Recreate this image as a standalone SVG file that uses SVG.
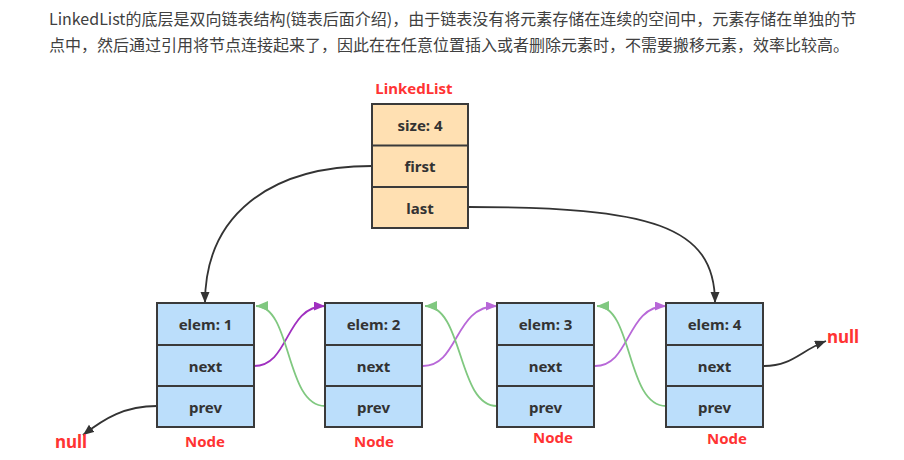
<svg xmlns="http://www.w3.org/2000/svg" width="904" height="460" viewBox="0 0 904 460">
<style>
.hdr{font-family:"Noto Sans CJK SC","Noto Sans",sans-serif;font-size:16px;fill:#404040}
.box{stroke:#3a3a3a;stroke-width:2}
.ll{fill:#ffe0b2}
.nd{fill:#bbdefb}
.div{stroke:#3a3a3a;stroke-width:2}
.t{font-family:"Noto Sans","Open Sans",sans-serif;font-weight:bold;font-size:15px;fill:#333;text-anchor:middle;dominant-baseline:central}
.red{font-family:"Noto Sans","Open Sans",sans-serif;font-weight:bold;font-size:15px;fill:#f33;text-anchor:middle;dominant-baseline:central}
.nul{font-size:17px}
.blk{fill:none;stroke:#333;stroke-width:1.8}
.pur{fill:none;stroke:#a030c0;stroke-width:1.8}
.pur2{fill:none;stroke:#b868d8;stroke-width:1.8}
.grn{fill:none;stroke:#80c880;stroke-width:1.8}
</style>
<defs>
<marker id="ab" markerUnits="userSpaceOnUse" markerWidth="12" markerHeight="10" refX="11" refY="4.5" orient="auto"><path d="M0,0 L11,4.5 L0,9 z" fill="#333"/></marker>
<marker id="ap" markerUnits="userSpaceOnUse" markerWidth="12" markerHeight="10" refX="11" refY="4.5" orient="auto"><path d="M0,0 L11,4.5 L0,9 z" fill="#a030c0"/></marker>
<marker id="ap2" markerUnits="userSpaceOnUse" markerWidth="12" markerHeight="10" refX="11" refY="4.5" orient="auto"><path d="M0,0 L11,4.5 L0,9 z" fill="#b868d8"/></marker>
<marker id="ag" markerUnits="userSpaceOnUse" markerWidth="13" markerHeight="11" refX="12" refY="5" orient="auto"><path d="M0,0 L12,5 L0,10 z" fill="#80c880"/></marker>
</defs>
<rect width="904" height="460" fill="#fff"/>
<g id="header">
<text class="hdr" x="49" y="25">LinkedList的底层是双向链表结构(链表后面介绍)，由于链表没有将元素存储在连续的空间中，元素存储在单独的节</text>
<text class="hdr" x="49" y="51">点中，然后通过引用将节点连接起来了，因此在在任意位置插入或者删除元素时，不需要搬移元素，效率比较高。</text>
</g>
<g id="connectors">
<path class="blk" d="M372,166 C270,166 205,215 205,303" marker-end="url(#ab)"/>
<path class="blk" d="M468,207 C650,207 715,225 715,303" marker-end="url(#ab)"/>
<path class="pur" d="M254,366 C290,366 285,306 325,306" marker-end="url(#ap)"/>
<path class="grn" d="M325,406 C285,406 292,306 256,306" marker-end="url(#ag)"/>
<path class="pur2" d="M423,366 C459,366 454,306 497,306" marker-end="url(#ap2)"/>
<path class="grn" d="M497,406 C457,406 464,306 425,306" marker-end="url(#ag)"/>
<path class="pur2" d="M595,366 C631,366 626,306 666,306" marker-end="url(#ap2)"/>
<path class="grn" d="M666,406 C626,406 633,306 597,306" marker-end="url(#ag)"/>
<path class="blk" d="M764,366 C792,366 800,351 826,341" marker-end="url(#ab)"/>
<path class="blk" d="M157,406 C125,406 105,418 83,435" marker-end="url(#ab)"/>
</g>
<g id="linkedlist">
<text class="red" x="414" y="88">LinkedList</text>
<rect class="box ll" x="372" y="104" width="96" height="124"/>
<line class="div" x1="372" y1="145.5" x2="468" y2="145.5"/>
<line class="div" x1="372" y1="187" x2="468" y2="187"/>
<text class="t" x="420" y="125">size: 4</text>
<text class="t" x="420" y="166">first</text>
<text class="t" x="420" y="207.5">last</text>
</g>
<g id="node1">
<rect class="box nd" x="157" y="303" width="97" height="124"/>
<line class="div" x1="157" y1="345" x2="254" y2="345"/>
<line class="div" x1="157" y1="386" x2="254" y2="386"/>
<text class="t" x="205.5" y="324">elem: 1</text>
<text class="t" x="205.5" y="365.5">next</text>
<text class="t" x="205.5" y="406.5">prev</text>
<text class="red" x="205" y="441">Node</text>
</g>
<g id="node2">
<rect class="box nd" x="325" y="303" width="97" height="124"/>
<line class="div" x1="325" y1="345" x2="422" y2="345"/>
<line class="div" x1="325" y1="386" x2="422" y2="386"/>
<text class="t" x="373.5" y="324">elem: 2</text>
<text class="t" x="373.5" y="365.5">next</text>
<text class="t" x="373.5" y="406.5">prev</text>
<text class="red" x="374" y="441">Node</text>
</g>
<g id="node3">
<rect class="box nd" x="497" y="303" width="97" height="124"/>
<line class="div" x1="497" y1="345" x2="594" y2="345"/>
<line class="div" x1="497" y1="386" x2="594" y2="386"/>
<text class="t" x="545.5" y="324">elem: 3</text>
<text class="t" x="545.5" y="365.5">next</text>
<text class="t" x="545.5" y="406.5">prev</text>
<text class="red" x="553" y="437">Node</text>
</g>
<g id="node4">
<rect class="box nd" x="666" y="303" width="97" height="124"/>
<line class="div" x1="666" y1="345" x2="763" y2="345"/>
<line class="div" x1="666" y1="386" x2="763" y2="386"/>
<text class="t" x="714.5" y="324">elem: 4</text>
<text class="t" x="714.5" y="365.5">next</text>
<text class="t" x="714.5" y="406.5">prev</text>
<text class="red" x="727" y="438">Node</text>
</g>
<g id="null-right"><text class="red nul" x="843" y="336">null</text></g>
<g id="null-left"><text class="red nul" x="71" y="441">null</text></g>
</svg>
